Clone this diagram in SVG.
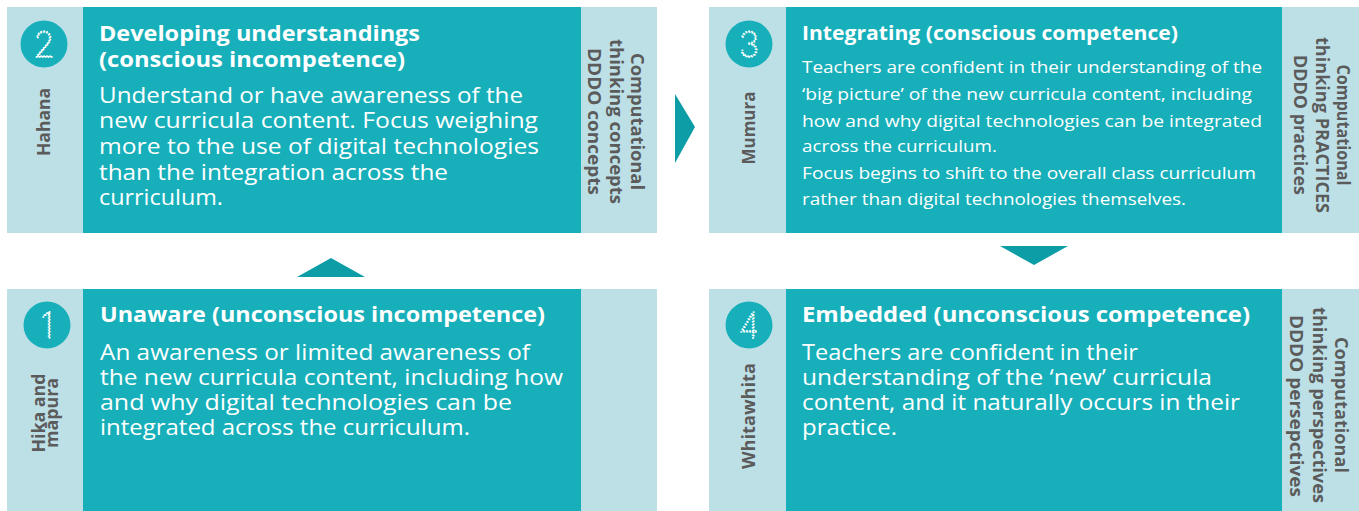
<svg xmlns="http://www.w3.org/2000/svg" width="1359" height="511" viewBox="0 0 1359 511">
<defs>
<style>
.dark{fill:#17AFBA}
.light{fill:#BDE0E7}
.arrow{fill:#0C9DA7}
.title{font-family:"Open Sans","Liberation Sans",sans-serif;font-weight:700;fill:#FFFFFF}
.body{font-family:"Open Sans","Liberation Sans",sans-serif;font-weight:400;fill:#FFFFFF}
.side{font-family:"Open Sans","Liberation Sans",sans-serif;font-weight:700;fill:#5B5B5B;font-size:17px}
.num{font-family:Inter,"Liberation Sans",sans-serif;font-weight:100;font-size:35px;fill:none;stroke:#FFFFFF;stroke-width:1.8;stroke-dasharray:0 3;stroke-linecap:round}
.circ{fill:#17AFBA}
</style>
</defs>
<rect width="1359" height="511" fill="#FFFFFF"/>

<g id="node-2">
<rect class="light" x="7" y="7" width="650" height="226"/>
<rect class="dark" x="83" y="7" width="498" height="226"/>
<circle class="circ" cx="44" cy="44" r="23.5"/>
<text class="num" x="44" y="56.5" text-anchor="middle">2</text>
<text class="side" transform="translate(50,122) rotate(-90)" text-anchor="middle" textLength="68" lengthAdjust="spacingAndGlyphs">Hahana</text>
<text class="title" x="99" y="41" font-size="22" textLength="321" lengthAdjust="spacingAndGlyphs">Developing understandings</text>
<text class="title" x="99" y="67" font-size="22" textLength="306" lengthAdjust="spacingAndGlyphs">(conscious incompetence)</text>
<text class="body" x="99" y="103" font-size="21" textLength="424" lengthAdjust="spacingAndGlyphs">Understand or have awareness of the</text>
<text class="body" x="99" y="128" font-size="21" textLength="439" lengthAdjust="spacingAndGlyphs">new curricula content. Focus weighing</text>
<text class="body" x="99" y="154" font-size="21" textLength="440" lengthAdjust="spacingAndGlyphs">more to the use of digital technologies</text>
<text class="body" x="99" y="180" font-size="21" textLength="349" lengthAdjust="spacingAndGlyphs">than the integration across the</text>
<text class="body" x="99" y="205" font-size="21" textLength="124" lengthAdjust="spacingAndGlyphs">curriculum.</text>
<text class="side" transform="translate(631,121.5) rotate(90)" text-anchor="middle" textLength="137" lengthAdjust="spacingAndGlyphs">Computational</text>
<text class="side" transform="translate(610,121.5) rotate(90)" text-anchor="middle" textLength="165" lengthAdjust="spacingAndGlyphs">thinking concepts</text>
<text class="side" transform="translate(588,121.5) rotate(90)" text-anchor="middle" textLength="147" lengthAdjust="spacingAndGlyphs">DDDO concepts</text>
</g>

<g id="node-3">
<rect class="light" x="709" y="7" width="650" height="226"/>
<rect class="dark" x="786" y="7" width="496" height="226"/>
<circle class="circ" cx="749" cy="44" r="23.5"/>
<text class="num" x="749" y="56.5" text-anchor="middle">3</text>
<text class="side" transform="translate(755,128) rotate(-90)" text-anchor="middle" textLength="73" lengthAdjust="spacingAndGlyphs">Mumura</text>
<text class="title" x="802" y="40" font-size="20" textLength="376" lengthAdjust="spacingAndGlyphs">Integrating (conscious competence)</text>
<text class="body" x="802" y="73" font-size="17" textLength="460" lengthAdjust="spacingAndGlyphs">Teachers are confident in their understanding of the</text>
<text class="body" x="802" y="100" font-size="17" textLength="450" lengthAdjust="spacingAndGlyphs">‘big picture’ of the new curricula content, including</text>
<text class="body" x="802" y="127" font-size="17" textLength="460" lengthAdjust="spacingAndGlyphs">how and why digital technologies can be integrated</text>
<text class="body" x="802" y="152" font-size="17" textLength="195" lengthAdjust="spacingAndGlyphs">across the curriculum.</text>
<text class="body" x="802" y="179" font-size="17" textLength="454" lengthAdjust="spacingAndGlyphs">Focus begins to shift to the overall class curriculum</text>
<text class="body" x="802" y="205" font-size="17" textLength="384" lengthAdjust="spacingAndGlyphs">rather than digital technologies themselves.</text>
<text class="side" transform="translate(1337,125) rotate(90)" text-anchor="middle" textLength="121" lengthAdjust="spacingAndGlyphs">Computational</text>
<text class="side" transform="translate(1315.5,125) rotate(90)" text-anchor="middle" textLength="176" lengthAdjust="spacingAndGlyphs">thinking PRACTICES</text>
<text class="side" transform="translate(1293.5,125) rotate(90)" text-anchor="middle" textLength="140" lengthAdjust="spacingAndGlyphs">DDDO practices</text>
</g>

<g id="node-1">
<rect class="light" x="7" y="289" width="650" height="222"/>
<rect class="dark" x="83" y="289" width="498" height="222"/>
<circle class="circ" cx="47" cy="325" r="23.5"/>
<text class="num" x="47" y="337.5" text-anchor="middle">1</text>
<text class="side" transform="translate(45,413) rotate(-90)" text-anchor="middle" textLength="79" lengthAdjust="spacingAndGlyphs">Hika and</text>
<text class="side" transform="translate(58,413) rotate(-90)" text-anchor="middle" textLength="70" lengthAdjust="spacingAndGlyphs">māpura</text>
<text class="title" x="100" y="322" font-size="21.5" textLength="445" lengthAdjust="spacingAndGlyphs">Unaware (unconscious incompetence)</text>
<text class="body" x="100" y="360" font-size="21" textLength="430" lengthAdjust="spacingAndGlyphs">An awareness or limited awareness of</text>
<text class="body" x="100" y="385" font-size="21" textLength="463" lengthAdjust="spacingAndGlyphs">the new curricula content, including how</text>
<text class="body" x="100" y="410" font-size="21" textLength="412" lengthAdjust="spacingAndGlyphs">and why digital technologies can be</text>
<text class="body" x="100" y="435" font-size="21" textLength="370" lengthAdjust="spacingAndGlyphs">integrated across the curriculum.</text>
</g>

<g id="node-4">
<rect class="light" x="709" y="289" width="650" height="222"/>
<rect class="dark" x="786" y="289" width="496" height="222"/>
<circle class="circ" cx="749" cy="325" r="23.5"/>
<text class="num" x="749" y="337.5" text-anchor="middle">4</text>
<text class="side" transform="translate(755,416) rotate(-90)" text-anchor="middle" textLength="106" lengthAdjust="spacingAndGlyphs">Whitawhita</text>
<text class="title" x="802" y="322" font-size="21.5" textLength="448" lengthAdjust="spacingAndGlyphs">Embedded (unconscious competence)</text>
<text class="body" x="802" y="360" font-size="21" textLength="336" lengthAdjust="spacingAndGlyphs">Teachers are confident in their</text>
<text class="body" x="802" y="385" font-size="21" textLength="410" lengthAdjust="spacingAndGlyphs">understanding of the ‘new’ curricula</text>
<text class="body" x="802" y="410" font-size="21" textLength="438" lengthAdjust="spacingAndGlyphs">content, and it naturally occurs in their</text>
<text class="body" x="802" y="435" font-size="21" textLength="95" lengthAdjust="spacingAndGlyphs">practice.</text>
<text class="side" transform="translate(1335,405) rotate(90)" text-anchor="middle" textLength="136" lengthAdjust="spacingAndGlyphs">Computational</text>
<text class="side" transform="translate(1313,405) rotate(90)" text-anchor="middle" textLength="196" lengthAdjust="spacingAndGlyphs">thinking perspectives</text>
<text class="side" transform="translate(1290,406) rotate(90)" text-anchor="middle" textLength="182" lengthAdjust="spacingAndGlyphs">DDDO persepctives</text>
</g>

<g id="connectors">
<polygon class="arrow" points="675,94 695,127 675,163"/>
<polygon class="arrow" points="297,277 331,258 365,277"/>
<polygon class="arrow" points="1000,246 1068,246 1034,265"/>
</g>
</svg>
